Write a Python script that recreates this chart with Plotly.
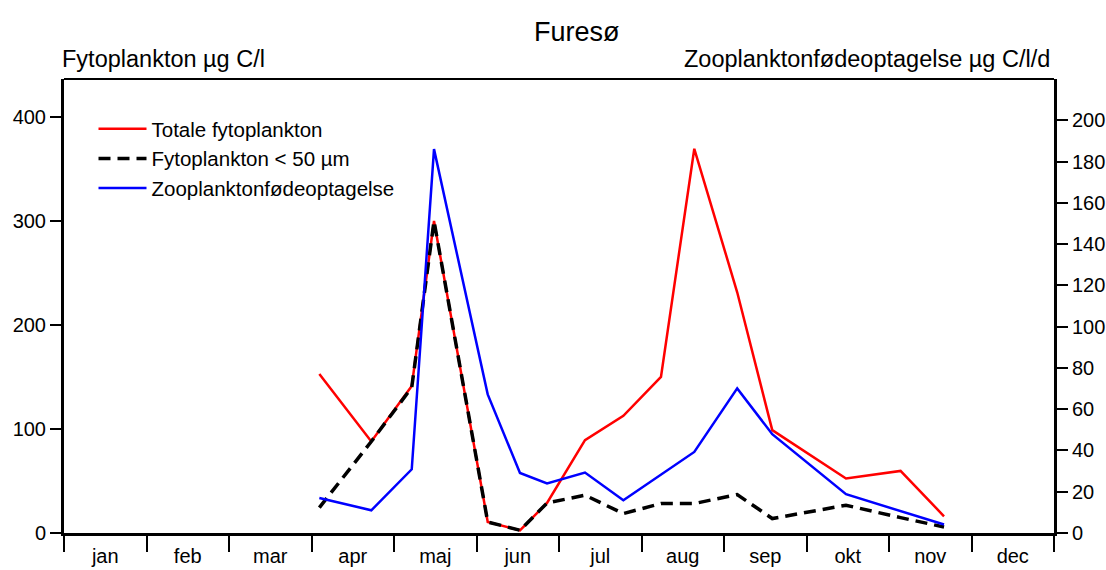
import plotly.graph_objects as go

# ---- data ----
months = ["jan", "feb", "mar", "apr", "maj", "jun", "jul", "aug", "sep", "okt", "nov", "dec"]
# sampling times expressed in months from 1 Jan (0 = start of jan)
sample_time = [3.095, 3.725, 4.215, 4.485, 5.136, 5.527, 5.855, 6.315, 6.78, 7.236,
               7.64, 8.16, 8.585, 9.479, 10.14, 10.667]
total_phyto = [152.8, 88, 141.3, 300, 10.6, 2.6, 28.9, 89.3, 112.7, 150.2,
               369.5, 231.5, 98.9, 52.4, 59.7, 16.1]
phyto_lt50 = [24.4, 88, 140, 300, 10.6, 2.6, 28.9, 36.3, 18.7, 28.3,
              28.3, 37, 13.9, 26.7, 14.8, 5.8]
zoo_uptake = [17.0, 11.0, 30.9, 186.1, 67.2, 29.1, 24.0, 29.3, 15.9, 28.3,
              39.3, 70.1, 47.9, 18.8, 10.5, 4.1]

left_ticks = [0, 100, 200, 300, 400]
right_ticks = [0, 20, 40, 60, 80, 100, 120, 140, 160, 180, 200]

FONT = "Liberation Sans, Arial, Helvetica, sans-serif"

fig = go.Figure()
fig.add_trace(go.Scatter(x=sample_time, y=total_phyto, mode="lines",
                         name="Totale fytoplankton",
                         line=dict(color="#ff0000", width=2.5)))
fig.add_trace(go.Scatter(x=sample_time, y=phyto_lt50, mode="lines",
                         name="Fytoplankton < 50 µm",
                         line=dict(color="#000000", width=3.5, dash="12px,7px")))
fig.add_trace(go.Scatter(x=sample_time, y=zoo_uptake, mode="lines",
                         name="Zooplanktonfødeoptagelse", yaxis="y2",
                         line=dict(color="#0000ff", width=2.5)))
# carrier for the month-label axis
fig.add_trace(go.Scatter(x=[None], y=[None], xaxis="x2", yaxis="y",
                         showlegend=False, hoverinfo="skip"))

fig.update_layout(
    width=1106, height=570,
    margin=dict(l=64, r=52, t=79, b=37, autoexpand=False),
    paper_bgcolor="white", plot_bgcolor="white",
    font=dict(family=FONT, color="black", size=20),
    xaxis=dict(range=[0, 12], tickvals=list(range(13)), ticktext=[""] * 13,
               ticks="outside", ticklen=16, tickwidth=2, tickcolor="black",
               showline=True, linewidth=3, linecolor="black",
               showgrid=False, zeroline=False, automargin=False),
    xaxis2=dict(range=[0, 12], overlaying="x", anchor="y", side="bottom",
                tickvals=[i + 0.5 for i in range(12)], ticktext=months,
                ticks="outside", ticklen=5, tickcolor="rgba(0,0,0,0)",
                showline=False, showgrid=False, zeroline=False,
                tickfont=dict(size=20), automargin=False),
    yaxis=dict(range=[0, 436.6], tickvals=left_ticks,
               ticks="outside", ticklen=11, tickwidth=2, tickcolor="black",
               showline=True, linewidth=3, linecolor="black",
               showgrid=False, zeroline=False, tickfont=dict(size=20),
               automargin=False),
    yaxis2=dict(range=[0, 220.1], tickvals=right_ticks, overlaying="y",
                side="right", anchor="x",
                ticks="outside", ticklen=11, tickwidth=2, tickcolor="black",
                showline=True, linewidth=3, linecolor="black",
                showgrid=False, zeroline=False, tickfont=dict(size=20),
                automargin=False),
    legend=dict(x=0.0298, y=0.934, xanchor="left", yanchor="top",
                bgcolor="rgba(0,0,0,0)", font=dict(size=20.5),
                itemwidth=48, tracegroupgap=0),
    shapes=[dict(type="line", xref="paper", yref="paper", x0=0, x1=1, y0=1, y1=1,
                 line=dict(color="black", width=2))],
    annotations=[
        dict(text="Furesø", xref="paper", yref="paper", x=0.518, y=1.1035,
             xanchor="center", yanchor="middle", showarrow=False,
             font=dict(size=27)),
        dict(text="Fytoplankton µg C/l", xref="paper", yref="paper", x=-0.004, y=1.044,
             xanchor="left", yanchor="middle", showarrow=False,
             font=dict(size=23.5)),
        dict(text="Zooplanktonfødeoptagelse µg C/l/d", xref="paper", yref="paper",
             x=0.998, y=1.044, xanchor="right", yanchor="middle", showarrow=False,
             font=dict(size=23.5)),
    ],
)

fig.write_html(
    "out.html",
    config={"displayModeBar": False},
    post_script="document.body.style.margin='0';document.body.style.overflow='hidden';",
)
